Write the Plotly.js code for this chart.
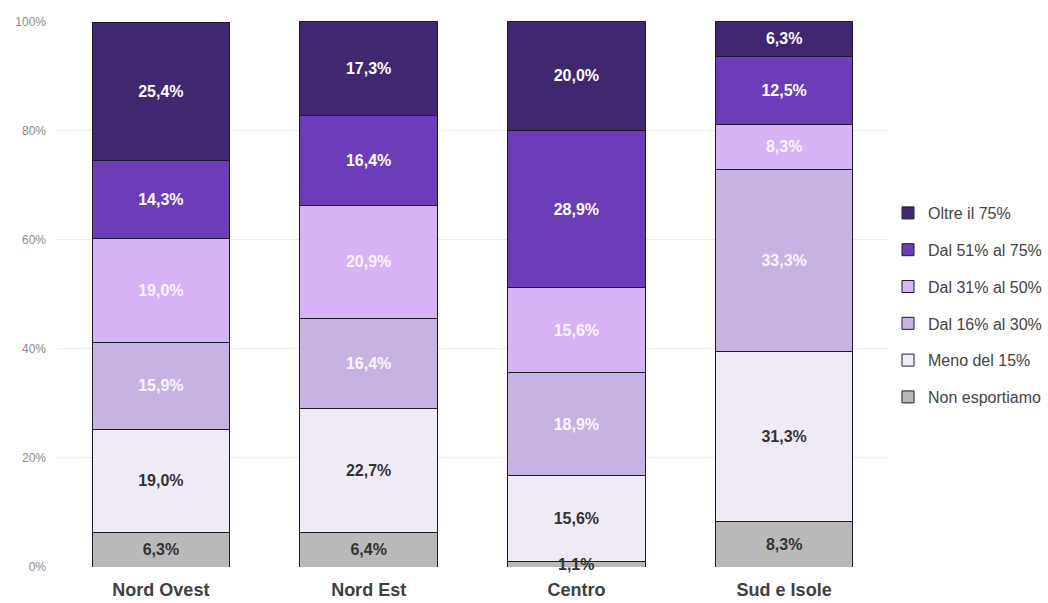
<!DOCTYPE html>
<html>
<head>
<meta charset="utf-8">
<script src="https://cdn.plot.ly/plotly-3.0.1.min.js"></script>
<style>html,body{margin:0;padding:0;background:#fff;}#chart{width:1048px;height:603px;}</style>
</head>
<body>
<div id="chart"></div>
<script>
var regions = ["Nord Ovest", "Nord Est", "Centro", "Sud e Isole"];
var seriesNames = ["Non esportiamo", "Meno del 15%", "Dal 16% al 30%", "Dal 31% al 50%", "Dal 51% al 75%", "Oltre il 75%"];
var nonEsportiamo = [6.3, 6.4, 1.1, 8.3];
var menoDel15 = [19.0, 22.7, 15.6, 31.3];
var dal16al30 = [15.9, 16.4, 18.9, 33.3];
var dal31al50 = [19.0, 20.9, 15.6, 8.3];
var dal51al75 = [14.3, 16.4, 28.9, 12.5];
var oltre75 = [25.4, 17.3, 20.0, 6.3];
var yTickVals = [0, 20, 40, 60, 80, 100];
var yTickText = ["0%", "20%", "40%", "60%", "80%", "100%"];

var values = [nonEsportiamo, menoDel15, dal16al30, dal31al50, dal51al75, oltre75];
var colors = ["#b9b9b9", "#f1ebf8", "#c6b3e3", "#d6b3f7", "#6b3db8", "#3f2870"];
var textColors = ["#333333", "#333333", "rgba(255,255,255,0.9)", "rgba(255,255,255,0.9)", "#ffffff", "#ffffff"];
var labelFont = 'Liberation Sans, Arial, sans-serif';

function fmt(v){ return v.toFixed(1).replace('.', ',') + '%'; }

var annotations = [];
var traces = values.map(function(vals, i){
  var txt = vals.map(function(v, j){
    if (v < 3) {
      var base = 0;
      for (var k = 0; k < i; k++) base += values[k][j];
      annotations.push({
        x: regions[j], y: base + v / 2, xref: 'x', yref: 'y',
        text: fmt(v), showarrow: false,
        font: {family: labelFont, size: 16, color: textColors[i], weight: 'bold'}
      });
      return '';
    }
    return fmt(v);
  });
  return {
    type: 'bar',
    name: seriesNames[i],
    x: regions,
    y: vals,
    text: txt,
    textposition: 'inside',
    insidetextanchor: 'middle',
    textangle: 0,
    constraintext: 'none',
    textfont: {family: labelFont, size: 16, color: textColors[i], weight: 'bold'},
    marker: {color: colors[i], line: {color: '#1f1a2a', width: 1}},
    legendgroup: 'g' + i,
    legendrank: 10 - i,
    hoverinfo: 'skip'
  };
});

var layout = {
  width: 1048,
  height: 603,
  barmode: 'stack',
  bargap: 0.337,
  paper_bgcolor: '#ffffff',
  plot_bgcolor: '#ffffff',
  margin: {l: 57, r: 148, t: 21, b: 36},
  uniformtext: {mode: 'show', minsize: 16},
  annotations: annotations,
  xaxis: {
    tickfont: {family: labelFont, size: 18, color: '#404040', weight: 'bold'},
    showgrid: false,
    showline: false,
    ticks: '',
    ticklabelstandoff: 10
  },
  yaxis: {
    range: [0, 100.15],
    tickvals: yTickVals,
    ticktext: yTickText,
    tickfont: {family: labelFont, size: 12, color: '#8a8a8a'},
    showgrid: true,
    gridcolor: '#ececec',
    gridwidth: 1,
    zeroline: false,
    showline: false,
    ticks: '',
    ticklabelstandoff: 10
  },
  legend: {
    xref: 'container',
    x: 888 / 1048,
    xanchor: 'left',
    yref: 'container',
    y: 1 - 305 / 603,
    yanchor: 'middle',
    traceorder: 'grouped',
    tracegroupgap: 13,
    font: {family: labelFont, size: 16, color: '#444444'},
    bgcolor: 'rgba(0,0,0,0)'
  },
  showlegend: true
};

Plotly.newPlot('chart', traces, layout, {displayModeBar: false, staticPlot: true});
</script>
</body>
</html>
